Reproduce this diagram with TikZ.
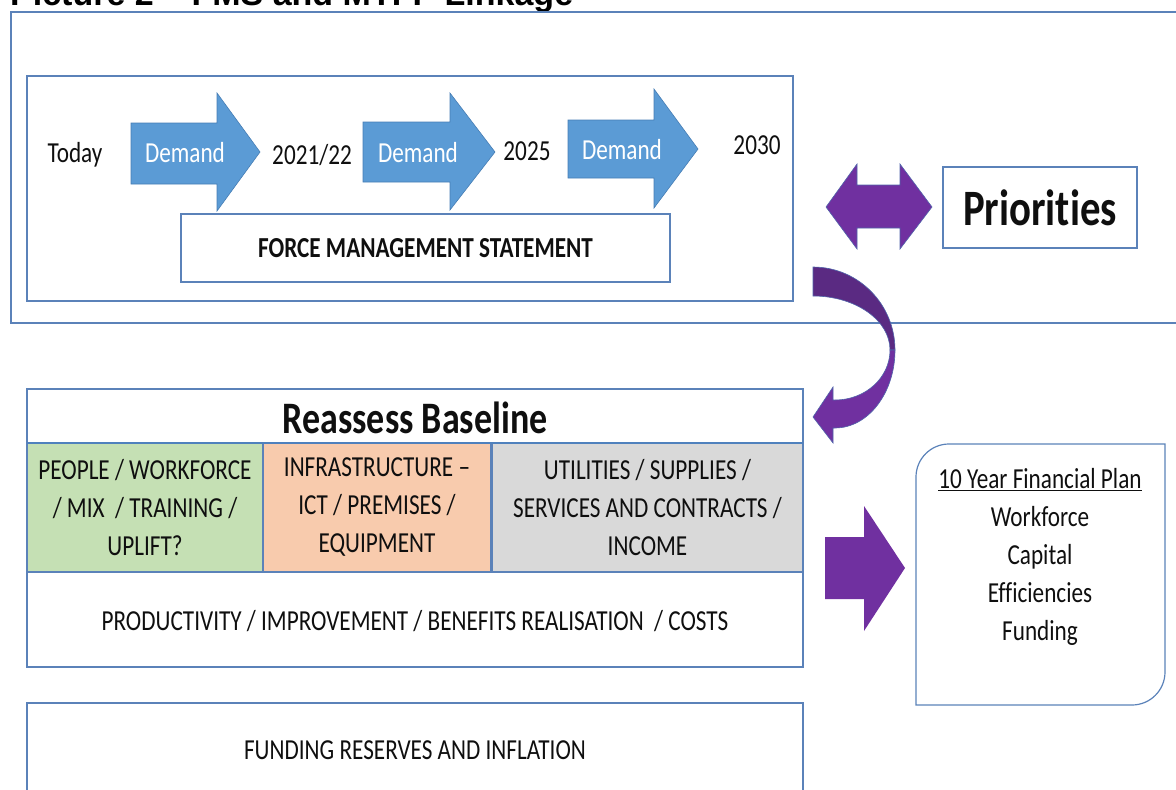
\documentclass[tikz,border=0pt]{standalone}
\usepackage{fontspec}
\setmainfont{Carlito}[FakeStretch=0.8, Ligatures={TeX,NoCommon}]
\newfontfamily\titlefont{Liberation Sans}
\definecolor{bord}{RGB}{91,130,185}
\definecolor{hdrline}{RGB}{79,129,189}
\definecolor{demandblue}{RGB}{91,155,213}
\definecolor{demandedge}{RGB}{70,125,180}
\definecolor{purp}{RGB}{112,48,160}
\definecolor{purpdark}{RGB}{90,42,130}
\definecolor{purpedge}{RGB}{80,100,170}
\definecolor{cellgreen}{RGB}{197,224,180}
\definecolor{cellorange}{RGB}{248,203,173}
\definecolor{cellgray}{RGB}{217,217,217}
\definecolor{txt}{RGB}{15,15,15}
\begin{document}
\begin{tikzpicture}[x=1pt,y=-1pt,
  frame/.style={draw=bord, line width=1.2pt, anchor=north west, inner sep=0pt, outer sep=0pt},
  lbl/.style={font=\fontsize{29}{38}\selectfont, text=txt, inner sep=0pt, align=center},
  boldlbl/.style={font=\fontsize{29}{38}\selectfont\bfseries, text=txt, align=center},
  demandarrow/.style={fill=demandblue, draw=demandedge, line width=0.6pt},
  purparrow/.style={fill=purp, draw=purpedge, line width=0.6pt}]
\useasboundingbox (0,0) rectangle (1176,790);

% cut-off title
\node[anchor=base west, inner sep=0pt, font=\titlefont\fontsize{34}{40}\selectfont\bfseries] (title) at (10,5) {Picture 2 – FMS and MTFP Linkage};

% outer frame of top section
\node[frame, minimum width=1190pt, minimum height=311pt] (outer) at (11,12) {};

% FMS frame
\node[frame, minimum width=766pt, minimum height=225pt] (fmsframe) at (27,76) {};

% Demand arrows
\draw[demandarrow] (131,123) -- (217,123) -- (217,93) -- (260,152) -- (217,211) -- (217,184) -- (131,184) -- cycle;
\draw[demandarrow] (363,122) -- (450,122) -- (450,93) -- (495,152) -- (450,210) -- (450,182) -- (363,182) -- cycle;
\draw[demandarrow] (568,120) -- (654,120) -- (654,89) -- (698,149) -- (654,208) -- (654,178) -- (568,178) -- cycle;

\node[lbl] (today) at (75,155) {Today};
\node[lbl, text=white] (d1) at (185,153) {Demand};
\node[lbl] (y2122) at (312,155) {2021/22};
\node[lbl, text=white] (d2) at (418,153) {Demand};
\node[lbl] (y2025) at (527,151) {2025};
\node[lbl, text=white] (d3) at (622,150) {Demand};
\node[lbl] (y2030) at (757,145) {2030};

% Force management statement
\node[frame, minimum width=489pt, minimum height=68pt] (fms) at (181,214) {};
\node[boldlbl] (fmstext) at (fms.center) {FORCE MANAGEMENT STATEMENT};

% Priorities
\node[frame, minimum width=194pt, minimum height=81pt] (prio) at (943,167) {};
\node[font=\fontsize{51}{60}\selectfont\bfseries, text=txt, inner sep=0pt] (priotext) at (1040,208) {Priorit\kern0pt ies};

% double arrow
\draw[purparrow] (826,207) -- (857,164) -- (857,185) -- (900,185) -- (900,164) -- (932,207)
  -- (900,249) -- (900,228) -- (857,228) -- (857,249) -- cycle;

% curved arrow: upper (back) face
\draw[fill=purpdark, draw=purpedge, line width=0.6pt]
  (813,267) .. controls (858.3,267) and (895,304.2) .. (895,350)
  -- (890,350) .. controls (890,320.2) and (855.5,296) .. (813,296) -- cycle;
% lower (front) face with head
\draw[purparrow]
  (890,350) .. controls (890,377.6) and (865.4,400) .. (835,400)
  -- (833,400) -- (833,387) -- (813,417) -- (833,443) -- (833,428) -- (835,428)
  .. controls (868.1,428) and (895,393.1) .. (895,350) -- cycle;

% Reassess baseline block
\node[frame, minimum width=776pt, minimum height=54pt] (rbhead) at (27,389) {};
\node[font=\fontsize{45}{54}\selectfont\bfseries, text=txt, inner sep=0pt] (rbtext) at (415,418) {Reassess Baseline};
\node[frame, fill=cellgreen, minimum width=236pt, minimum height=129pt] (people) at (27,443) {};
\node[frame, fill=cellorange, minimum width=228pt, minimum height=129pt] (infra) at (263,443) {};
\node[frame, fill=cellgray, minimum width=311pt, minimum height=129pt] (util) at (492,443) {};
\draw[draw=hdrline, line width=2.6pt] (rbhead.south west) -- (rbhead.south east);
\node[lbl] (peopletext) at (people.center) {PEOPLE / WORKFORCE\\/ MIX \ / TRAINING /\\UPLIFT?};
\node[lbl] (infratext) at (infra.center) {INFRASTRUCTURE –\\ICT / PREMISES /\\EQUIPMENT};
\node[lbl] (utiltext) at (util.center) {UTILITIES / SUPPLIES /\\SERVICES AND CONTRACTS /\\INCOME};
\node[frame, minimum width=776pt, minimum height=95pt] (prod) at (27,572) {};
\node[lbl] (prodtext) at (415,621) {PRODUCTIVITY / IMPROVEMENT / BENEFITS REALISATION \ / COSTS};

% right block arrow
\draw[fill=purp, draw=none] (825,537) -- (864,537) -- (864,506) -- (905,568) -- (864,631) -- (864,599) -- (825,599) -- cycle;

% 10 year financial plan box
\draw[draw=bord, line width=1.2pt] (916,705) -- (916,477) .. controls (916,458.8) and (930.8,444) .. (949,444)
  -- (1165,444) -- (1165,672) .. controls (1165,690.2) and (1150.2,705) .. (1132,705) -- cycle;
\node[lbl] (plantext) at (1040,557) {\underline{10 Year Financial Plan}\\Workforce\\Capital\\Efficiencies\\Funding};

% funding reserves box
\node[frame, minimum width=776pt, minimum height=110pt] (funding) at (27,703) {};
\node[lbl] (fundtext) at (415,750) {FUNDING RESERVES AND INFLATION};
\end{tikzpicture}
\end{document}
